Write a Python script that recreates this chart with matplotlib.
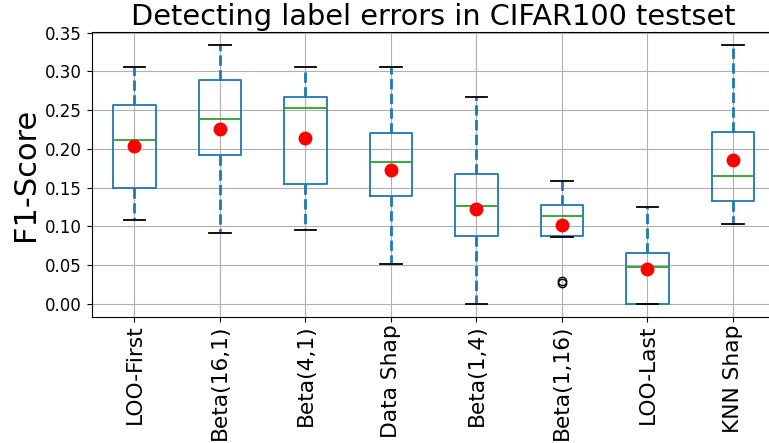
import matplotlib
matplotlib.use("Agg")
import matplotlib.pyplot as plt

methods = ["LOO-First", "Beta(16,1)", "Beta(4,1)", "Data Shap",
           "Beta(1,4)", "Beta(1,16)", "LOO-Last", "KNN Shap"]
whis_low = [0.108, 0.091, 0.095, 0.051, 0.000, 0.086, 0.000, 0.103]
q1 = [0.150, 0.192, 0.155, 0.139, 0.088, 0.088, 0.000, 0.133]
median = [0.211, 0.239, 0.252, 0.183, 0.126, 0.113, 0.047, 0.165]
q3 = [0.256, 0.289, 0.267, 0.220, 0.167, 0.127, 0.066, 0.221]
whis_high = [0.305, 0.334, 0.305, 0.305, 0.267, 0.158, 0.125, 0.334]
means = [0.203, 0.226, 0.214, 0.173, 0.122, 0.102, 0.045, 0.185]
outliers = [[], [], [], [], [], [0.027, 0.029], [], []]

stats = []
for i in range(len(methods)):
    stats.append({"label": methods[i], "whislo": whis_low[i], "q1": q1[i],
                  "med": median[i], "q3": q3[i], "whishi": whis_high[i],
                  "mean": means[i], "fliers": outliers[i]})

fig = plt.figure(figsize=(7.69, 4.43), dpi=100)
ax = fig.add_axes([0.1192, 0.2851, 0.8895, 0.642])

ax.bxp(stats, widths=0.5, showmeans=True, patch_artist=False,
       boxprops=dict(color="#1f77b4", linewidth=1.3),
       whiskerprops=dict(color="#1f77b4", linestyle="--", linewidth=2),
       capprops=dict(color="k", linewidth=1.3),
       medianprops=dict(color="#2ca02c", linewidth=1.3),
       meanprops=dict(marker="o", markerfacecolor="red", markeredgecolor="red",
                      markersize=9),
       flierprops=dict(marker="o", markerfacecolor="none", markeredgecolor="k",
                       markersize=6))

ax.grid(True, color="#b0b0b0", linewidth=0.8)
ax.set_axisbelow(True)
ax.set_xlim(0.5, len(methods) + 0.5)
ax.set_ylim(-0.0167, 0.3503)
ax.set_yticks([0.0, 0.05, 0.10, 0.15, 0.20, 0.25, 0.30, 0.35])
ax.tick_params(axis="y", labelsize=12)
ax.tick_params(axis="x", labelsize=15.7, labelrotation=90, pad=2)
ax.set_ylabel("F1-Score", fontsize=22)
ax.set_title("Detecting label errors in CIFAR100 testset", fontsize=20.7, pad=5)

fig.savefig("out.png", dpi=100)
